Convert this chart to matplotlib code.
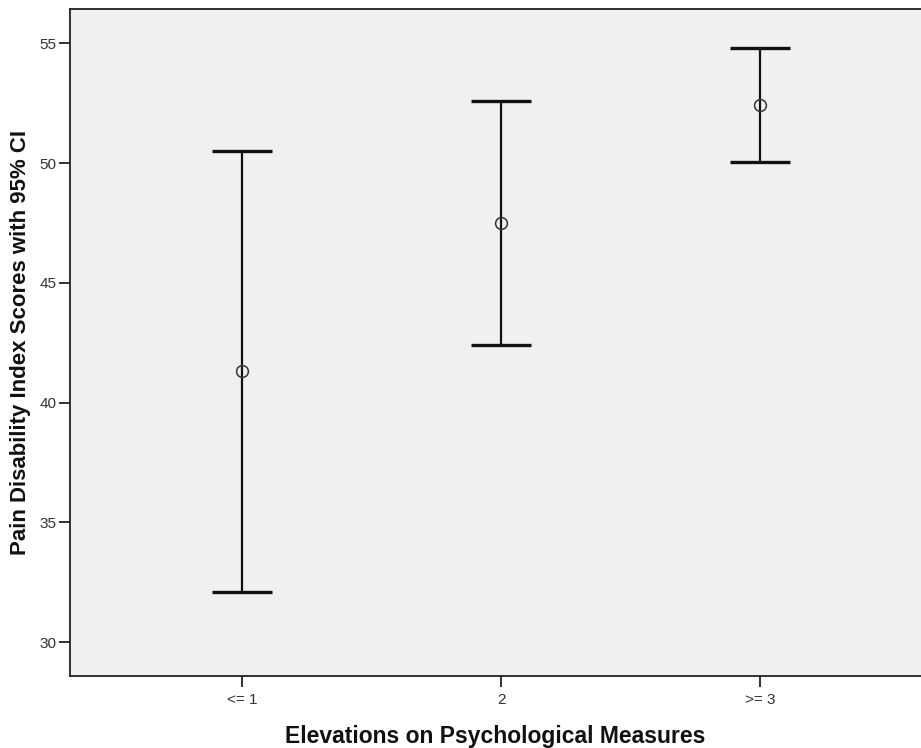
import matplotlib
matplotlib.use("Agg")
import matplotlib.pyplot as plt
import numpy as np

categories = ["<= 1", "2", ">= 3"]
means = [41.34, 47.51, 52.43]
ci_lower = [32.11, 42.41, 50.06]
ci_upper = [50.50, 52.60, 54.79]

plt.rcParams['font.family'] = ['Liberation Sans', 'DejaVu Sans']

W, H = 921, 748
fig = plt.figure(figsize=(W/100, H/100), dpi=100)
left, right, top, bottom = 70, 921, 9, 676
ax = fig.add_axes([left/W, 1-bottom/H, (right-left)/W, (bottom-top)/H])
ax.set_facecolor('#F0F0F0')

x = np.arange(len(categories))
m = np.array(means)
lo = m - np.array(ci_lower)
hi = np.array(ci_upper) - m

ax.errorbar(x, m, yerr=[lo, hi], fmt='none', ecolor='#111111',
            elinewidth=1.6, capsize=21.5, capthick=2.4, zorder=2)
ax.plot(x, m, linestyle='none', marker='o', markersize=8.5,
        markerfacecolor='none', markeredgecolor='#333333',
        markeredgewidth=1.1, zorder=3)

ax.set_xlim(-0.666, 2.62)
ax.set_ylim(28.59, 56.43)
ax.set_yticks([30, 35, 40, 45, 50, 55])
ax.set_xticks(x)
ax.set_xticklabels(categories)

for s in ['left', 'bottom', 'top']:
    ax.spines[s].set_color('#222222')
    ax.spines[s].set_linewidth(1.3)
ax.spines['right'].set_visible(False)

ax.tick_params(axis='both', direction='out', length=8, width=1.3,
               color='#222222', labelsize=11, labelcolor='#333333', pad=1.5)
ax.tick_params(axis='x', pad=4)

ax.set_xlabel("Elevations on Psychological Measures", fontsize=16.5,
              fontweight='bold', labelpad=13, color='#111111')
ax.set_ylabel("Pain Disability Index Scores with 95% CI", fontsize=16,
              fontweight='bold', labelpad=6, color='#111111')

fig.savefig("out.png", dpi=100)
